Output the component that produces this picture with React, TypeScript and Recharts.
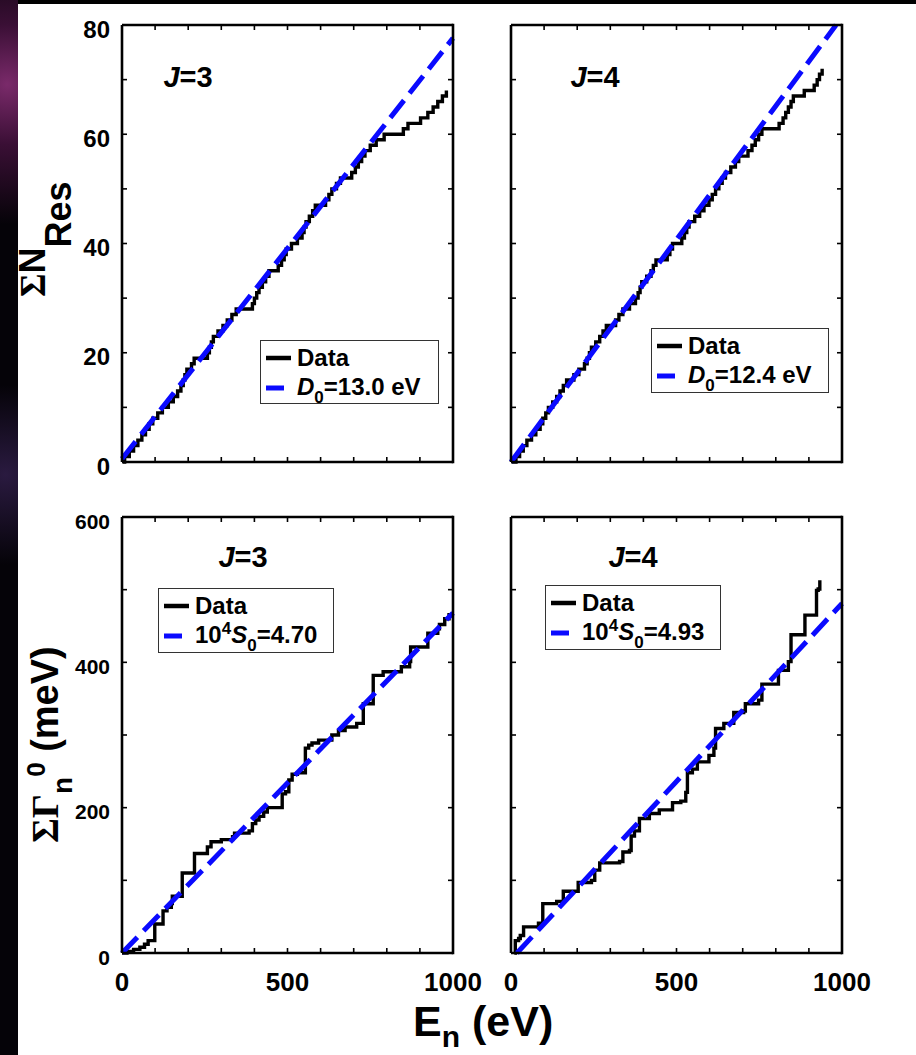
import React from "react";
import { LineChart, Line, XAxis, YAxis, Legend } from "recharts";

// resonance energies (eV)
const J3_RES_E = [
  8, 22, 35, 48, 60, 71, 82, 93, 108, 122, 140, 155, 168, 178, 185, 190, 196,
  210, 218, 258, 264, 270, 276, 290, 305, 318, 332, 345, 394, 400, 407, 414,
  424, 434, 444, 472, 482, 490, 496, 512, 530, 544, 550, 556, 566, 576, 584,
  615, 625, 634, 648, 660, 694, 705, 714, 724, 734, 750, 768, 792, 850, 864,
  902, 924, 940, 954, 968, 980,
];
const J4_RES_E = [
  15, 26, 37, 48, 62, 75, 88, 96, 105, 113, 126, 138, 148, 158, 168, 190, 205,
  222, 230, 237, 243, 256, 268, 278, 288, 316, 326, 338, 358, 376, 384, 390,
  395, 410, 423, 430, 438, 472, 480, 488, 516, 524, 531, 538, 555, 570, 583,
  598, 608, 618, 628, 638, 648, 664, 678, 688, 716, 728, 738, 748, 758, 810,
  822, 830, 838, 846, 853, 886, 916, 925, 932, 940,
];

// cumulative reduced neutron width (meV) vs energy (eV)
const J3_GAM_E = [
  0, 15, 35, 54, 68, 79, 99, 124, 136, 149, 152, 182, 219, 258, 269, 300, 334,
  340, 384, 394, 404, 414, 428, 439, 484, 494, 504, 514, 530, 554, 564, 574,
  594, 634, 654, 674, 709, 729, 759, 789, 844, 869, 872, 924, 954, 959, 975, 988,
];
const J3_GAM_SUM = [
  0, 2, 5, 8, 12, 17, 40, 58, 63, 68, 78, 110, 137, 146, 153, 156, 160, 165,
  168, 178, 183, 188, 194, 200, 219, 222, 238, 246, 248, 282, 286, 289, 293,
  300, 306, 311, 316, 343, 382, 387, 394, 401, 421, 440, 446, 452, 460, 468,
];
const J4_GAM_E = [
  10, 13, 23, 28, 38, 83, 96, 138, 158, 203, 243, 253, 268, 328, 338, 358, 363,
  373, 388, 418, 448, 488, 513, 528, 533, 548, 563, 598, 613, 618, 643, 673,
  703, 708, 748, 758, 808, 838, 846, 888, 923, 928, 933,
];
const J4_GAM_SUM = [
  0, 17, 20, 24, 36, 41, 68, 71, 85, 97, 100, 114, 124, 126, 139, 141, 161, 168,
  185, 192, 197, 207, 209, 221, 248, 253, 263, 272, 282, 309, 316, 331, 333,
  343, 348, 370, 389, 401, 438, 465, 499, 501, 513,
];

// fitted straight lines (end points)
const J3_N_FIT_E = [0, 1000];
const J3_N_FIT = [0.6, 77.6];
const J4_N_FIT_E = [0, 982];
const J4_N_FIT = [0, 80];
const J3_G_FIT_E = [0, 1000];
const J3_G_FIT = [0, 468];
const J4_G_FIT_E = [18, 1000];
const J4_G_FIT = [0, 481];

const X_TICKS = [0, 100, 200, 300, 400, 500, 600, 700, 800, 900, 1000];
const X_LABELS = [0, 500, 1000];
const N_TICKS = [0, 10, 20, 30, 40, 50, 60, 70, 80];
const N_LABELS = [0, 20, 40, 60, 80];
const G_TICKS = [0, 100, 200, 300, 400, 500, 600];
const G_LABELS = [0, 200, 400, 600];

const SANS = "'Liberation Sans', Arial, Helvetica, sans-serif";
const SERIF = "'Liberation Serif', 'Times New Roman', serif";
const BLUE = "#0a0aff";
const TICK_LEN = 5;
const X_MAX = 1000;

const PLOT_W = 331;
const Y_AXIS_W = 70;
const M_TOP = 10;
const TOP_AXIS_H = 1;
const M_RIGHT = 45;
const X_AXIS_H = 60;

type Pt = { e: number; v: number };

function staircase(energies: number[]): Pt[] {
  return [{ e: 2, v: 0 }, ...energies.map((e, i) => ({ e, v: i + 1 }))];
}
function pairs(es: number[], vs: number[]): Pt[] {
  return es.map((e, i) => ({ e, v: vs[i] }));
}

const bottomTick = (labels: number[]) => (p: any) => (
  <g>
    <line x1={p.x} y1={p.y} x2={p.x} y2={p.y - TICK_LEN} stroke="#000" strokeWidth={1.6} />
    {labels.includes(p.payload.value) && (
      <text x={p.x} y={p.y + 29} textAnchor="middle" dominantBaseline="central"
        fontFamily={SANS} fontWeight={700} fontSize={26} fill="#000">
        {p.payload.value}
      </text>
    )}
  </g>
);
// top ticks; the last one also closes the box on the right
const topTick = (plotH: number) => (p: any) => (
  <g>
    <line x1={p.x} y1={p.y} x2={p.x} y2={p.y + TICK_LEN} stroke="#000" strokeWidth={1.6} />
    {p.payload.value === X_MAX && (
      <line x1={p.x} y1={p.y - 1.3} x2={p.x} y2={p.y + plotH + 1.3} stroke="#000" strokeWidth={2.6} />
    )}
  </g>
);
// left ticks with labels, mirrored inward ticks on the right frame
const leftTick = (labels: number[], size: number) => (p: any) => (
  <g>
    <line x1={p.x} y1={p.y} x2={p.x + TICK_LEN} y2={p.y} stroke="#000" strokeWidth={1.6} />
    <line x1={p.x + PLOT_W} y1={p.y} x2={p.x + PLOT_W - TICK_LEN} y2={p.y} stroke="#000" strokeWidth={1.6} />
    {labels.includes(p.payload.value) && (
      <text x={p.x - 12} y={p.y + 4} textAnchor="end" dominantBaseline="central"
        fontFamily={SANS} fontWeight={700} fontSize={size} fill="#000">
        {p.payload.value}
      </text>
    )}
  </g>
);

function LegendBox({ fitLabel }: { fitLabel: React.ReactNode }) {
  const row = (top: number, sample: React.ReactNode, label: React.ReactNode) => (
    <div style={{ position: "absolute", left: 0, top: top - 14, height: 28, display: "flex", alignItems: "center" }}>
      <svg width={36} height={28} style={{ display: "block" }}>{sample}</svg>
      <span style={{ whiteSpace: "nowrap", lineHeight: "28px" }}>{label}</span>
    </div>
  );
  return (
    <div style={{
      width: "100%", height: "100%", boxSizing: "border-box", border: "1.5px solid #333",
      background: "#fff", position: "relative", fontFamily: SANS, fontWeight: 700,
      fontSize: 24, color: "#000",
    }}>
      {row(17, <line x1={5} y1={14} x2={30} y2={14} stroke="#000" strokeWidth={4.5} />, "Data")}
      {row(47, <line x1={5} y1={14} x2={23} y2={14} stroke={BLUE} strokeWidth={5} />, fitLabel)}
    </div>
  );
}

type PanelProps = {
  left: number; top: number; height: number;
  data: Pt[]; fit: Pt[];
  yDomain: [number, number]; yTicks: number[]; yLabels: number[]; yFont: number;
  showY: boolean; showX: boolean;
  legendBox: { x: number; y: number; w: number; h: number };
  fitLabel: React.ReactNode;
};

function Panel(p: PanelProps) {
  const ox = p.left - Y_AXIS_W;
  const oy = p.top - M_TOP;
  const w = Y_AXIS_W + PLOT_W + M_RIGHT;
  const h = M_TOP + p.height + X_AXIS_H;
  const frame = { stroke: "#000", strokeWidth: 2.6 };
  return (
    <div style={{ position: "absolute", left: ox, top: oy }}>
      <LineChart width={w} height={h}
        margin={{ top: M_TOP - TOP_AXIS_H, right: M_RIGHT, bottom: 0, left: 0 }}>
        <XAxis dataKey="e" type="number" domain={[0, X_MAX]} ticks={X_TICKS} interval={0}
          height={X_AXIS_H} tickSize={0} tickMargin={0} tickLine={false} axisLine={frame}
          tick={bottomTick(p.showX ? X_LABELS : [])} />
        <XAxis xAxisId="t" orientation="top" dataKey="e" type="number" domain={[0, X_MAX]}
          ticks={X_TICKS} interval={0} height={TOP_AXIS_H} tickSize={0} tickMargin={0}
          tickLine={false} axisLine={frame} tick={topTick(p.height)} />
        <YAxis type="number" domain={p.yDomain} ticks={p.yTicks} interval={0} width={Y_AXIS_W}
          tickSize={0} tickMargin={0} tickLine={false} axisLine={frame}
          tick={leftTick(p.showY ? p.yLabels : [], p.yFont)} />
        <Line data={p.data} dataKey="v" type="stepAfter" stroke="#000" strokeWidth={3.4}
          dot={false} isAnimationActive={false} />
        <Line data={p.fit} dataKey="v" xAxisId="t" type="linear" stroke={BLUE}
          strokeWidth={5} strokeDasharray="22 9" dot={false} isAnimationActive={false} />
        <Legend layout="horizontal" verticalAlign="middle" align="center"
          wrapperStyle={{
            position: "absolute", left: p.legendBox.x - ox, top: p.legendBox.y - oy,
            width: p.legendBox.w, height: p.legendBox.h,
          }}
          content={() => <LegendBox fitLabel={p.fitLabel} />} />
      </LineChart>
    </div>
  );
}

const sub = (t: string) => (
  <span style={{ fontSize: 17, position: "relative", top: 8 }}>{t}</span>
);
const sup = (t: string) => (
  <span style={{ fontSize: 17, position: "relative", top: -9 }}>{t}</span>
);

function JLabel({ cx, cy, n }: { cx: number; cy: number; n: number }) {
  return (
    <div style={{
      position: "absolute", left: cx - 40, top: cy - 16, width: 80, height: 32,
      textAlign: "center", lineHeight: "32px", fontFamily: SANS, fontWeight: 700, fontSize: 29,
    }}>
      <i>J</i>={n}
    </div>
  );
}

export default function App() {
  return (
    <div style={{ position: "absolute", left: 0, top: 0, width: 916, height: 1055, background: "#000", overflow: "hidden" }}>
      <div style={{
        position: "absolute", left: 0, top: 0, width: 18, height: 1055,
        background: "radial-gradient(circle at 40% 8%, #7a2a6a 0, #3a0f35 60px, transparent 140px), radial-gradient(circle at 30% 45%, #2a1a40 0, transparent 90px), #050308",
      }} />
      <div style={{ position: "absolute", left: 18, top: 4, width: 898, height: 1051, background: "#fff" }} />

      <Panel left={122} top={25} height={437} data={staircase(J3_RES_E)} fit={pairs(J3_N_FIT_E, J3_N_FIT)}
        yDomain={[0, 80]} yTicks={N_TICKS} yLabels={N_LABELS} yFont={24} showY showX={false}
        legendBox={{ x: 260, y: 340, w: 179, h: 64 }}
        fitLabel={<><i>D</i>{sub("0")}=13.0 eV</>} />
      <Panel left={511} top={25} height={437} data={staircase(J4_RES_E)} fit={pairs(J4_N_FIT_E, J4_N_FIT)}
        yDomain={[0, 80]} yTicks={N_TICKS} yLabels={N_LABELS} yFont={24} showY={false} showX={false}
        legendBox={{ x: 651, y: 328, w: 178, h: 65 }}
        fitLabel={<><i>D</i>{sub("0")}=12.4 eV</>} />
      <Panel left={122} top={517} height={436} data={pairs(J3_GAM_E, J3_GAM_SUM)} fit={pairs(J3_G_FIT_E, J3_G_FIT)}
        yDomain={[0, 600]} yTicks={G_TICKS} yLabels={G_LABELS} yFont={21} showY showX
        legendBox={{ x: 158, y: 588, w: 176, h: 65 }}
        fitLabel={<>10{sup("4")}<i>S</i>{sub("0")}=4.70</>} />
      <Panel left={511} top={517} height={436} data={pairs(J4_GAM_E, J4_GAM_SUM)} fit={pairs(J4_G_FIT_E, J4_G_FIT)}
        yDomain={[0, 600]} yTicks={G_TICKS} yLabels={G_LABELS} yFont={21} showY={false} showX
        legendBox={{ x: 545, y: 585, w: 176, h: 65 }}
        fitLabel={<>10{sup("4")}<i>S</i>{sub("0")}=4.93</>} />

      <JLabel cx={188} cy={77} n={3} />
      <JLabel cx={595} cy={77} n={4} />
      <JLabel cx={243} cy={557} n={3} />
      <JLabel cx={633} cy={557} n={4} />

      <svg width={916} height={1055} style={{ position: "absolute", left: 0, top: 0, pointerEvents: "none" }}>
        <text transform="translate(45,297) rotate(-90)" fontWeight={700} fontSize={36} fill="#000">
          <tspan fontFamily={SERIF}>Σ</tspan>
          <tspan fontFamily={SANS}>N</tspan>
          <tspan fontFamily={SANS} dy={26}>Res</tspan>
        </text>
        <text transform="translate(58,843) rotate(-90)" fontWeight={700} fontSize={38} fill="#000">
          <tspan fontFamily={SERIF}>ΣΓ</tspan>
          <tspan fontFamily={SANS} fontSize={28} dy={14}>n</tspan>
          <tspan fontFamily={SANS} fontSize={26} dy={-27}>0</tspan>
          <tspan fontFamily={SANS} dy={13}> (meV)</tspan>
        </text>
        <text x={413} y={1036} fontFamily={SANS} fontWeight={700} fontSize={43} fill="#000">
          E<tspan fontSize={30} dy={11}>n</tspan><tspan dy={-11}> (eV)</tspan>
        </text>
      </svg>
    </div>
  );
}
